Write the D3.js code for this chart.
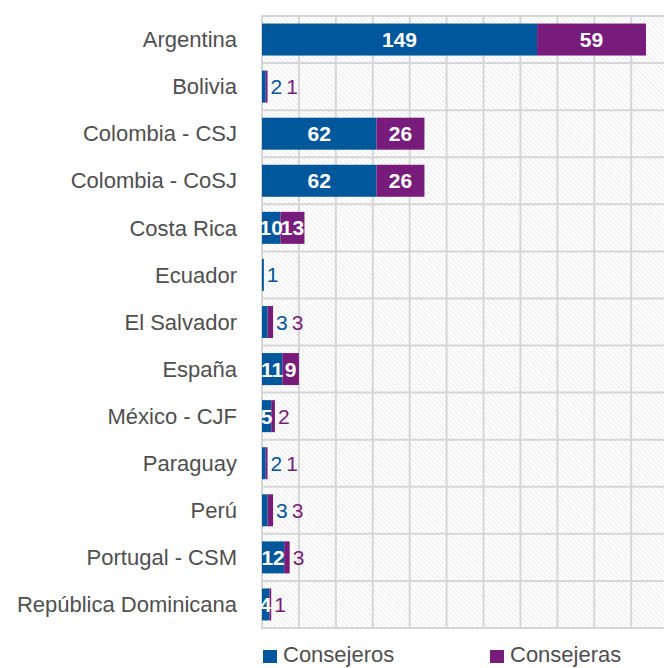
<!DOCTYPE html>
<html>
<head>
<meta charset="utf-8">
<script src="https://cdn.jsdelivr.net/npm/d3@7"></script>
<style>
  html, body { margin: 0; padding: 0; background: #fff; }
  svg { display: block; font-family: "Liberation Sans", Arial, sans-serif; }
</style>
</head>
<body>
<svg id="viz" width="664" height="668"></svg>
<script>
(() => {
  const categories = [
    'Argentina', 'Bolivia', 'Colombia - CSJ', 'Colombia - CoSJ', 'Costa Rica',
    'Ecuador', 'El Salvador', 'España', 'México - CJF', 'Paraguay', 'Perú',
    'Portugal - CSM', 'República Dominicana'
  ];
  const consejeros = [149, 2, 62, 62, 10, 1, 3, 11, 5, 2, 3, 12, 4];
  const consejeras = [59, 1, 26, 26, 13, 0, 3, 9, 2, 1, 3, 3, 1];
  const seriesNames = ['Consejeros', 'Consejeras'];
  const xTicks = d3.range(0, 221, 20);

  const BLUE = '#00579b';
  const PURPLE = '#781c7c';
  const TEXT = '#4f4f4f';
  const GRID = '#d6d6d6';

  const svg = d3.select('#viz');
  const top = 16, bottom = 628, left = 262;

  const x = d3.scaleLinear().domain([0, 220]).range([left, left + 220 * 1.846]);
  const y = d3.scaleBand().domain(categories).range([top, bottom]).paddingInner(0.32).paddingOuter(0.16);
  const rowBand = d3.scaleBand().domain(categories).range([top, bottom]);

  // hatch pattern for the plot background
  const defs = svg.append('defs');
  const pat = defs.append('pattern')
    .attr('id', 'hatch')
    .attr('patternUnits', 'userSpaceOnUse')
    .attr('width', 3.4).attr('height', 3.4)
    .attr('patternTransform', 'rotate(-45)');
  pat.append('line')
    .attr('x1', 0).attr('y1', 0).attr('x2', 0).attr('y2', 3.4)
    .attr('stroke', '#d8d8d8').attr('stroke-width', 1);

  svg.append('rect')
    .attr('x', x(0)).attr('y', top)
    .attr('width', x(220) - x(0)).attr('height', bottom - top)
    .attr('fill', 'url(#hatch)');

  // grid
  const grid = svg.append('g');
  grid.selectAll('line.v').data(xTicks).join('line')
    .attr('class', 'v')
    .attr('x1', (d) => x(d)).attr('x2', (d) => x(d))
    .attr('y1', top).attr('y2', bottom)
    .attr('stroke', GRID).attr('stroke-width', 2);
  const hLines = categories.map((c) => rowBand(c)).concat([bottom]);
  grid.selectAll('line.h').data(hLines).join('line')
    .attr('class', 'h')
    .attr('x1', x(0) - 1).attr('x2', x(220))
    .attr('y1', (d) => d).attr('y2', (d) => d)
    .attr('stroke', GRID).attr('stroke-width', 2);

  // category labels
  svg.append('g').selectAll('text').data(categories).join('text')
    .attr('x', 237)
    .attr('y', (d) => y(d) + y.bandwidth() / 2)
    .attr('dy', '0.35em')
    .attr('text-anchor', 'end')
    .attr('fill', TEXT)
    .attr('font-size', 22)
    .text((d) => d);

  // stacked bars
  const rows = categories.map((c, i) => ({ cat: c, a: consejeros[i], b: consejeras[i] }));
  const bars = svg.append('g');
  bars.selectAll('rect.a').data(rows).join('rect')
    .attr('class', 'a')
    .attr('x', x(0))
    .attr('y', (d) => y(d.cat))
    .attr('width', (d) => x(d.a) - x(0))
    .attr('height', y.bandwidth())
    .attr('fill', BLUE);
  bars.selectAll('rect.b').data(rows).join('rect')
    .attr('class', 'b')
    .attr('x', (d) => x(d.a))
    .attr('y', (d) => y(d.cat))
    .attr('width', (d) => x(d.a + d.b) - x(d.a))
    .attr('height', y.bandwidth())
    .attr('fill', PURPLE);

  // value labels: inside (white) when wide enough, otherwise after the bar end
  const labels = svg.append('g')
    .attr('font-size', 21)
    .attr('font-weight', 'bold');
  rows.forEach((d) => {
    const cy = y(d.cat) + y.bandwidth() / 2;
    let cursor = x(d.a + d.b) + 3;
    const segs = [
      { v: d.a, x0: x(0), x1: x(d.a), color: BLUE, min: 4 },
      { v: d.b, x0: x(d.a), x1: x(d.a + d.b), color: PURPLE, min: 5 }
    ];
    segs.forEach((s) => {
      if (!s.v) return;
      if (s.v >= s.min) {
        labels.append('text')
          .attr('x', (s.x0 + s.x1) / 2).attr('y', cy).attr('dy', '0.36em')
          .attr('text-anchor', 'middle').attr('fill', '#fff')
          .text(s.v);
      } else {
        const t = labels.append('text')
          .attr('x', cursor).attr('y', cy).attr('dy', '0.36em')
          .attr('font-weight', 'normal')
          .attr('fill', s.color)
          .text(s.v);
        cursor += t.node().getComputedTextLength() + 4;
      }
    });
  });

  // legend
  const legend = svg.append('g');
  const legendX = [263, 490];
  seriesNames.forEach((name, i) => {
    legend.append('rect')
      .attr('x', legendX[i]).attr('y', 650)
      .attr('width', 14).attr('height', 13)
      .attr('fill', i === 0 ? BLUE : PURPLE);
    legend.append('text')
      .attr('x', legendX[i] + 20).attr('y', 654)
      .attr('dy', '0.35em')
      .attr('font-size', 22)
      .attr('fill', TEXT)
      .text(name);
  });
})();
</script>
</body>
</html>
